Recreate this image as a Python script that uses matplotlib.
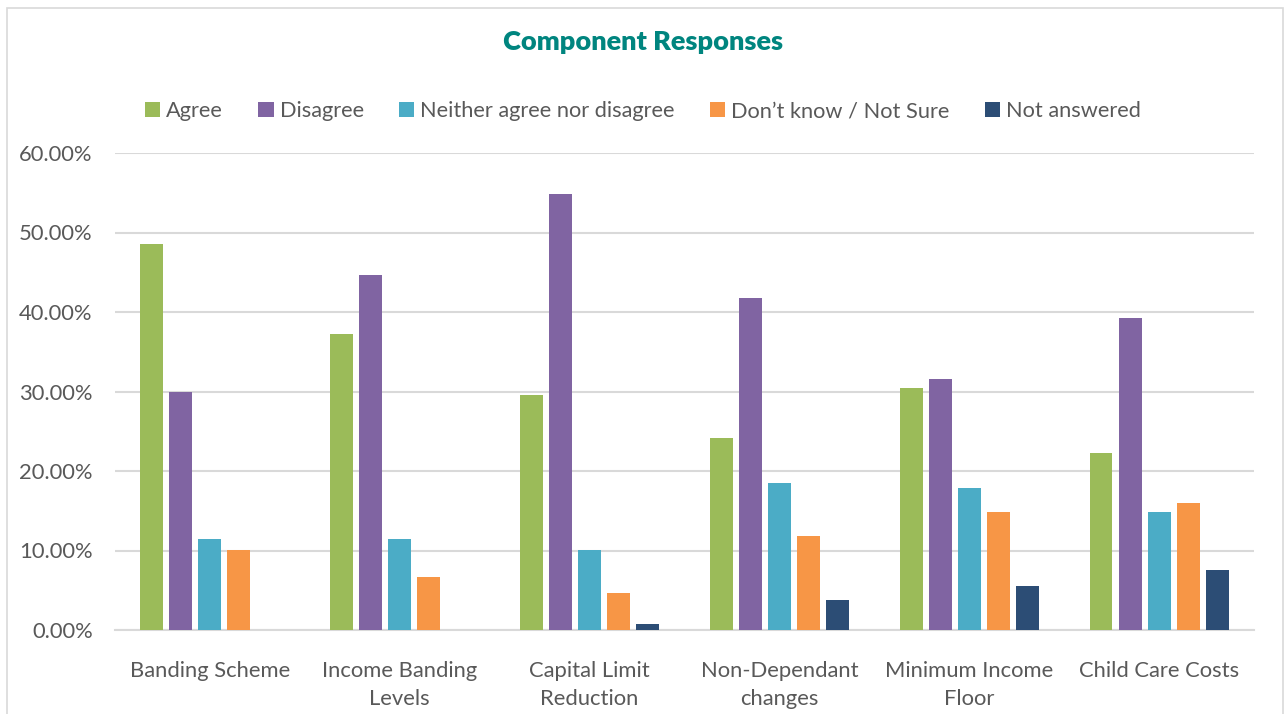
import matplotlib
matplotlib.use("Agg")
import matplotlib.pyplot as plt
import numpy as np
from matplotlib.patches import Rectangle
from matplotlib.ticker import FuncFormatter

categories = ["Banding Scheme", "Income Banding\nLevels", "Capital Limit\nReduction",
              "Non-Dependant\nchanges", "Minimum Income\nFloor", "Child Care Costs"]
series_names = ["Agree", "Disagree", "Neither agree nor disagree",
                "Don\u2019t know / Not Sure", "Not answered"]
agree = [48.6, 37.2, 29.6, 24.1, 30.4, 22.3]
disagree = [30.0, 44.7, 54.9, 41.8, 31.6, 39.3]
neither = [11.4, 11.4, 10.1, 18.5, 17.8, 14.8]
dont_know = [10.1, 6.7, 4.6, 11.8, 14.8, 16.0]
not_answered = [0.0, 0.0, 0.8, 3.8, 5.5, 7.6]
yticks = [0, 10, 20, 30, 40, 50, 60]

colors = ["#9BBB59", "#8064A2", "#4BACC6", "#F79646", "#2C4D75"]
text_gray = "#595959"

plt.rcParams['font.family'] = ['Lato', 'DejaVu Sans']

fig = plt.figure(figsize=(12.86, 7.14), dpi=100)
fig.patches.append(Rectangle((7/1286, -0.05), (1283-7)/1286, 1 - 8/714 + 0.05,
                             transform=fig.transFigure, fill=False,
                             edgecolor="#D9D9D9", linewidth=1.2, zorder=0))

ax = fig.add_axes([115/1286, 1 - 630/714, (1254-115)/1286, (630-153)/714])

data = [agree, disagree, neither, dont_know, not_answered]
x = np.arange(len(categories))
pitch = 0.153
width = 0.121
for i, (vals, name, c) in enumerate(zip(data, series_names, colors)):
    ax.bar(x + (i - 2) * pitch, vals, width=width, color=c, label=name, zorder=3)

ax.set_xlim(-0.5, len(categories) - 0.5)
ax.set_ylim(0, 60)
ax.set_yticks(yticks)
ax.yaxis.set_major_formatter(FuncFormatter(lambda v, p: f"{v:.2f}%"))
ax.grid(axis='y', color="#D9D9D9", linewidth=1.5, zorder=0)
ax.set_axisbelow(True)
for s in ["top", "right", "left"]:
    ax.spines[s].set_visible(False)
ax.spines["bottom"].set_color("#D9D9D9")
ax.spines["bottom"].set_linewidth(1.5)
ax.set_xticks(x)
ax.set_xticklabels(categories, linespacing=1.55)
ax.tick_params(axis='both', length=0, colors=text_gray, labelsize=15.8)
ax.tick_params(axis='y', pad=16)
ax.tick_params(axis='x', pad=22)

fig.text(0.5, 1 - 42/714, "Component Responses", ha='center', va='center',
         fontsize=19.5, fontweight='heavy', color="#00857F")

leg = fig.legend(loc='center', bbox_to_anchor=(0.5, 1 - 111/714), ncol=5,
                 frameon=False, fontsize=15.7, handlelength=0.7, handleheight=0.7,
                 handletextpad=0.27, columnspacing=1.62)
for t in leg.get_texts():
    t.set_color(text_gray)

fig.savefig("out.png", dpi=100)
